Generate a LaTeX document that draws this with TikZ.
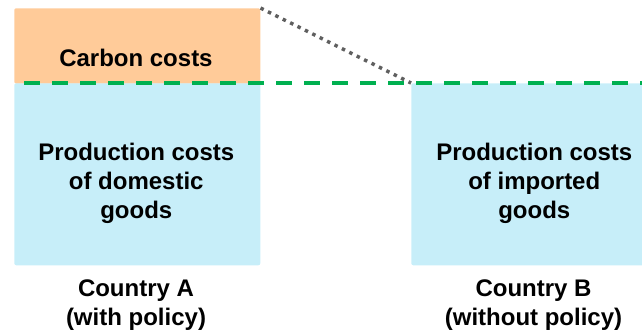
\documentclass[tikz,border=0pt]{standalone}
\usepackage{fontspec}
\setmainfont{Liberation Sans}
\definecolor{carbonfill}{HTML}{FFCB99}
\definecolor{prodfill}{HTML}{C7EEF9}
\definecolor{levelgreen}{HTML}{00B050}
\definecolor{linkgray}{HTML}{5F5F5F}
\tikzset{
  costbox/.style={anchor=north west, inner sep=0pt, rounded corners=1.5pt, align=center, font=\fontsize{18}{21.9}\selectfont\bfseries},
  caption/.style={anchor=center, align=center, font=\fontsize{18}{21.9}\selectfont\bfseries},
  levelline/.style={draw=levelgreen, line width=2.4pt, dash pattern=on 12pt off 9pt},
  linkline/.style={draw=linkgray, line width=2.6pt, dash pattern=on 2.6pt off 3.6pt}
}
\begin{document}
\begin{tikzpicture}[x=0.75pt,y=-0.75pt]
\useasboundingbox (0,0) rectangle (642,331);
\clip (0,0) rectangle (642,331);
\node[costbox, fill=carbonfill, minimum width=184.5pt, minimum height=56.5pt] (carbon) at (14,8) {\raisebox{-15.3pt}[0pt][0pt]{\kern-2pt Carbon costs}};
\node[costbox, fill=prodfill, minimum width=184.5pt, minimum height=136.5pt] (prodA) at (14,83) {\raisebox{-11.25pt}[0pt][0pt]{\kern-1.5pt\begin{tabular}{@{}c@{}}Production costs\\of domestic\\goods\end{tabular}}};
\node[costbox, fill=prodfill, minimum width=184.5pt, minimum height=136.5pt] (prodB) at (411,83) {\raisebox{-11.25pt}[0pt][0pt]{\begin{tabular}{@{}c@{}}Production costs\\of imported\\goods\end{tabular}}};
\node[caption] (countryA) at (136,305) {Country A\\(with policy)};
\node[caption] (countryB) at (533.5,305) {Country B\\(without policy)};
\coordinate (levelstart) at (24,83);
\coordinate (levelend) at (642,83);
\draw[levelline] (levelstart) -- (levelend);
\draw[linkline] (carbon.north east) -- (prodB.north west);
\end{tikzpicture}
\end{document}
